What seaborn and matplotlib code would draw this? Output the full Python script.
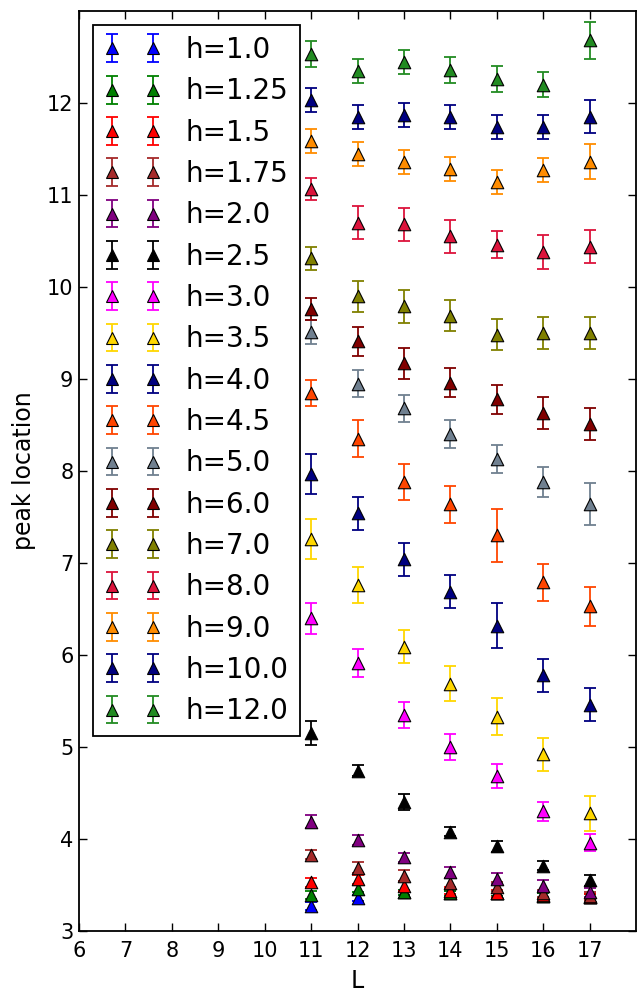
import numpy as np
import pandas as pd
import matplotlib
matplotlib.use("Agg")
import matplotlib.pyplot as plt
from matplotlib.lines import Line2D
import seaborn as sns

# ---------------- data ----------------
L = [11, 12, 13, 14, 15, 16, 17]

h_labels = ["h=1.0", "h=1.25", "h=1.5", "h=1.75", "h=2.0", "h=2.5", "h=3.0",
            "h=3.5", "h=4.0", "h=4.5", "h=5.0", "h=6.0", "h=7.0", "h=8.0",
            "h=9.0", "h=10.0", "h=12.0"]

colors = ["#0000ff", "#008000", "#ff0000", "#a52a2a", "#800080", "#000000",
          "#ff00ff", "#ffd700", "#000080", "#ff4500", "#708090", "#800000",
          "#808000", "#dc143c", "#ff8c00", "#000080", "#228b22"]

peak_h1_0 = [3.27, 3.36, 3.42, 3.41, 3.41, 3.38, 3.37]
err_h1_0 = [0.04, 0.03, 0.03, 0.03, 0.03, 0.03, 0.03]
peak_h1_25 = [3.39, 3.46, 3.42, 3.41, 3.41, 3.38, 3.37]
err_h1_25 = [0.04, 0.04, 0.03, 0.03, 0.03, 0.03, 0.03]
peak_h1_5 = [3.53, 3.56, 3.49, 3.44, 3.41, 3.39, 3.37]
err_h1_5 = [0.05, 0.05, 0.05, 0.04, 0.04, 0.03, 0.03]
peak_h1_75 = [3.83, 3.69, 3.60, 3.52, 3.48, 3.41, 3.38]
err_h1_75 = [0.05, 0.06, 0.06, 0.06, 0.05, 0.04, 0.04]
peak_h2_0 = [4.19, 3.99, 3.80, 3.64, 3.57, 3.49, 3.42]
err_h2_0 = [0.07, 0.05, 0.05, 0.06, 0.06, 0.06, 0.05]
peak_h2_5 = [5.15, 4.74, 4.40, 4.08, 3.92, 3.71, 3.55]
err_h2_5 = [0.13, 0.06, 0.09, 0.05, 0.06, 0.05, 0.06]
peak_h3_0 = [6.40, 5.91, 5.35, 5.00, 4.68, 4.30, 3.96]
err_h3_0 = [0.17, 0.15, 0.14, 0.14, 0.13, 0.10, 0.09]
peak_h3_5 = [7.26, 6.76, 6.09, 5.69, 5.33, 4.92, 4.28]
err_h3_5 = [0.22, 0.20, 0.18, 0.19, 0.20, 0.18, 0.19]
peak_h4_0 = [7.97, 7.54, 7.04, 6.69, 6.32, 5.78, 5.46]
err_h4_0 = [0.22, 0.18, 0.18, 0.18, 0.24, 0.18, 0.18]
peak_h4_5 = [8.85, 8.35, 7.88, 7.64, 7.30, 6.79, 6.53]
err_h4_5 = [0.14, 0.20, 0.20, 0.20, 0.29, 0.20, 0.21]
peak_h5_0 = [9.51, 8.95, 8.68, 8.40, 8.13, 7.88, 7.64]
err_h5_0 = [0.13, 0.15, 0.15, 0.15, 0.15, 0.16, 0.23]
peak_h6_0 = [9.76, 9.41, 9.17, 8.96, 8.78, 8.63, 8.51]
err_h6_0 = [0.12, 0.16, 0.17, 0.16, 0.16, 0.17, 0.17]
peak_h7_0 = [10.31, 9.90, 9.79, 9.69, 9.48, 9.50, 9.50]
err_h7_0 = [0.12, 0.17, 0.18, 0.17, 0.17, 0.17, 0.17]
peak_h8_0 = [11.07, 10.70, 10.68, 10.55, 10.46, 10.38, 10.44]
err_h8_0 = [0.12, 0.18, 0.18, 0.18, 0.15, 0.18, 0.18]
peak_h9_0 = [11.59, 11.45, 11.36, 11.28, 11.14, 11.27, 11.36]
err_h9_0 = [0.13, 0.13, 0.13, 0.13, 0.13, 0.13, 0.19]
peak_h10_0 = [12.03, 11.85, 11.87, 11.85, 11.74, 11.74, 11.85]
err_h10_0 = [0.13, 0.13, 0.13, 0.13, 0.13, 0.13, 0.18]
peak_h12_0 = [12.53, 12.35, 12.45, 12.36, 12.26, 12.20, 12.68]
err_h12_0 = [0.14, 0.13, 0.13, 0.14, 0.14, 0.14, 0.20]

peaks = [peak_h1_0, peak_h1_25, peak_h1_5, peak_h1_75, peak_h2_0, peak_h2_5,
         peak_h3_0, peak_h3_5, peak_h4_0, peak_h4_5, peak_h5_0, peak_h6_0,
         peak_h7_0, peak_h8_0, peak_h9_0, peak_h10_0, peak_h12_0]
errs = [err_h1_0, err_h1_25, err_h1_5, err_h1_75, err_h2_0, err_h2_5,
        err_h3_0, err_h3_5, err_h4_0, err_h4_5, err_h5_0, err_h6_0,
        err_h7_0, err_h8_0, err_h9_0, err_h10_0, err_h12_0]

x_ticks = list(range(6, 18))
y_ticks = list(range(3, 13))

# ---------------- style ----------------
sns.set_theme(style="white")
plt.rcParams.update({
    "font.family": ["DejaVu Sans"],
    "text.color": "black",
    "axes.edgecolor": "black",
    "axes.linewidth": 1.0,
    "xtick.direction": "in",
    "ytick.direction": "in",
    "xtick.top": True,
    "ytick.right": True,
    "xtick.bottom": True,
    "ytick.left": True,
    "xtick.major.size": 6,
    "ytick.major.size": 6,
    "xtick.major.width": 1.0,
    "ytick.major.width": 1.0,
    "xtick.major.pad": 7,
    "ytick.major.pad": 4,
    "xtick.color": "black",
    "ytick.color": "black",
    "xtick.labelcolor": "black",
    "ytick.labelcolor": "black",
    "xtick.labelsize": 15,
    "ytick.labelsize": 15,
    "axes.labelsize": 17,
    "axes.labelcolor": "black",
    "legend.labelcolor": "black",
})

fig = plt.figure(figsize=(6.41, 9.92), dpi=100)
ax = fig.add_axes([79 / 641, 1 - 931 / 992, (636 - 79) / 641, (931 - 11) / 992])

ms = 9
handles = []
for lab, col, yv, ev in zip(h_labels, colors, peaks, errs):
    cont = ax.errorbar(L, yv, yerr=ev, fmt="none", ecolor=col, elinewidth=1.3,
                       capsize=4, capthick=1.3, zorder=2)
    df = pd.DataFrame({"L": L, "peak": yv})
    sns.scatterplot(data=df, x="L", y="peak", ax=ax, marker="^", s=ms ** 2,
                    color=col, edgecolor="black", linewidth=0.8, zorder=3,
                    legend=False)
    mk = Line2D([], [], linestyle="none", marker="^", markersize=ms,
                markerfacecolor=col, markeredgecolor="black",
                markeredgewidth=0.8)
    handles.append((cont, mk))

ax.set_xlim(6, 18)
ax.set_ylim(3, 13)
ax.set_xticks(x_ticks)
ax.set_yticks(y_ticks)
ax.set_xlabel("L", labelpad=6)
ax.set_ylabel("peak location", labelpad=8)
for sp in ax.spines.values():
    sp.set_linewidth(1.3)
    sp.set_color("black")

leg = ax.legend(handles, h_labels, loc="upper left", numpoints=2,
                fontsize=20, fancybox=False, framealpha=1, edgecolor="black",
                borderpad=0.4, labelspacing=0.48, handlelength=2.05,
                handletextpad=0.9, borderaxespad=0.5, handleheight=0.7)
leg.get_frame().set_linewidth(1.3)
for t in leg.get_texts():
    t.set_color("black")

fig.savefig("out.png", dpi=100)
